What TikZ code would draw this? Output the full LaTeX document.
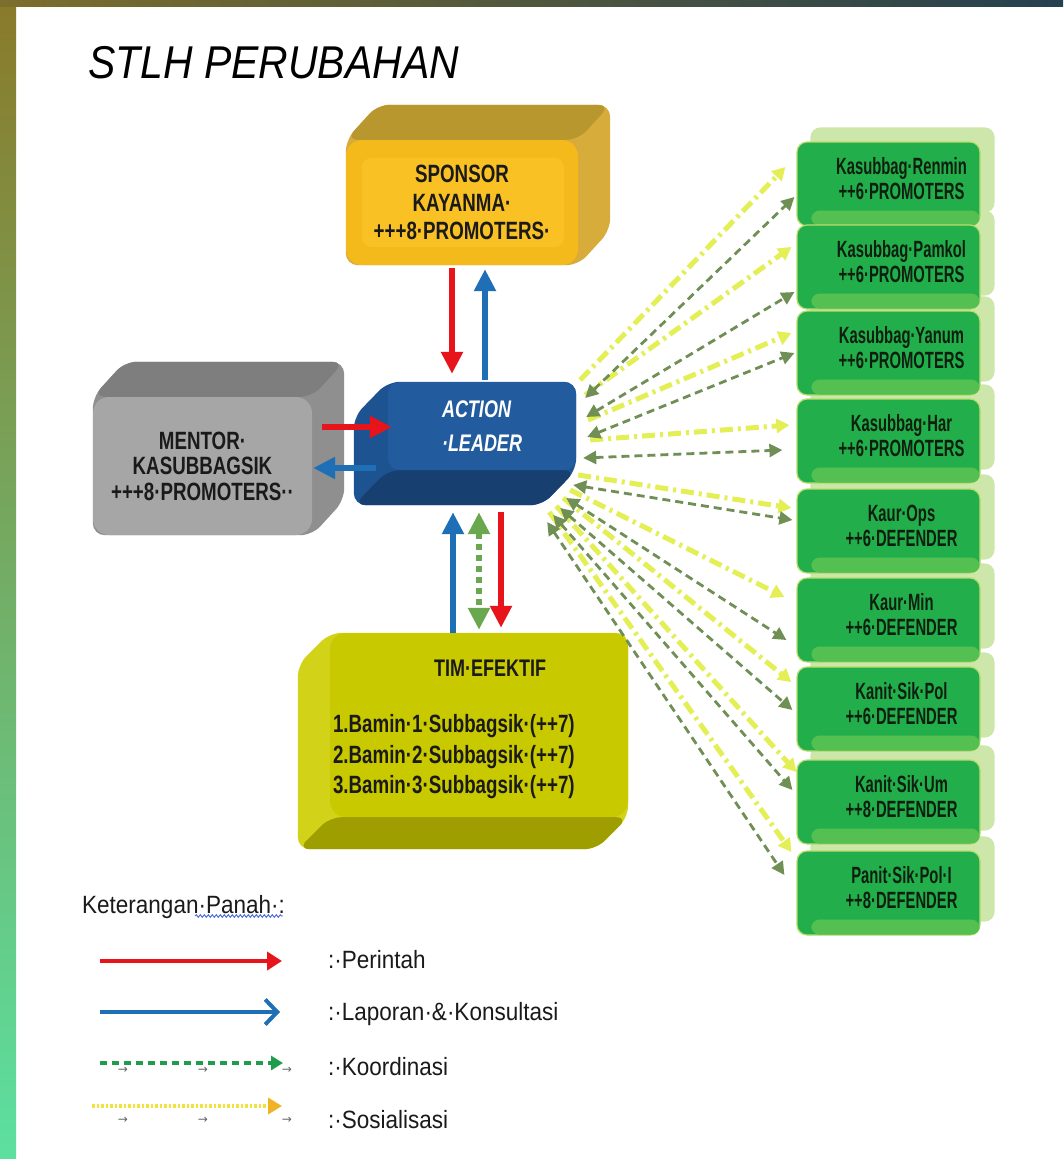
\documentclass[tikz,border=0pt]{standalone}
\usepackage{fontspec}
\setmainfont{Liberation Sans}
\newfontfamily\nA[FakeStretch=0.75]{Liberation Sans}
\newfontfamily\nB[FakeStretch=0.63]{Liberation Sans}
\newfontfamily\nC[FakeStretch=0.9]{Liberation Sans}
\newfontfamily\nT[FakeStretch=0.89]{Liberation Sans}
\newfontfamily\dv{DejaVu Sans}
\usetikzlibrary{arrows.meta,decorations.pathmorphing}
\pgfdeclarelayer{bg}
\pgfdeclarelayer{faces}
\pgfsetlayers{bg,faces,main}
\definecolor{stripA}{HTML}{8A7A2A}
\definecolor{stripB}{HTML}{94A436}
\definecolor{stripC}{HTML}{5CE0A0}
\definecolor{topA}{HTML}{7C6E2C}
\definecolor{topB}{HTML}{25404F}
\definecolor{spFront}{HTML}{F4B91B}
\definecolor{spInner}{HTML}{F9C124}
\definecolor{spTop}{HTML}{B8972F}
\definecolor{spSide}{HTML}{D8AC3A}
\definecolor{meFront}{HTML}{A6A6A6}
\definecolor{meTop}{HTML}{7E7E7E}
\definecolor{meSide}{HTML}{8F8F8F}
\definecolor{ldFront}{HTML}{225C9F}
\definecolor{ldSide}{HTML}{1E5391}
\definecolor{ldBot}{HTML}{173F70}
\definecolor{tmFront}{HTML}{C9C900}
\definecolor{tmSide}{HTML}{D2D218}
\definecolor{tmBot}{HTML}{9E9E00}
\definecolor{gFront}{HTML}{22AF4B}
\definecolor{gMid}{HTML}{55C052}
\definecolor{gBack}{HTML}{CDE6A9}
\definecolor{gEdge}{HTML}{B9DC6C}
\definecolor{arRed}{HTML}{E8141B}
\definecolor{arBlue}{HTML}{1F6FB6}
\definecolor{arGreen}{HTML}{6AA84F}
\definecolor{fanGreen}{HTML}{6F8F55}
\definecolor{fanYellow}{HTML}{E4EF55}
\definecolor{lgGreen}{HTML}{1E9E4C}
\definecolor{lgYellow}{HTML}{F2E23A}
\definecolor{lgOrange}{HTML}{F0B323}
\definecolor{txtDark}{HTML}{1A1A1A}
\definecolor{gText}{HTML}{0F1F0F}
\begin{document}
\begin{tikzpicture}[x=1pt,y=-1pt,
  front/.style={inner sep=0pt, align=center, text=txtDark},
  gbox/.style={fill=gFront, draw=gEdge, line width=1.2pt, rounded corners=10pt, minimum width=183pt, minimum height=84pt, inner sep=0pt},
  gtext/.style={align=center, text=gText, font=\nB\bfseries\fontsize{23.5}{25}\selectfont, inner sep=0pt},
  bigarrow/.style={line width=6.5pt, -{Triangle[length=22pt,width=21pt]}},
  fanY/.style={draw=fanYellow, line width=5pt, dash pattern=on 13pt off 5pt on 3pt off 5pt, -{Triangle[length=13pt,width=14pt]}},
  fanG/.style={draw=fanGreen, line width=2.8pt, dash pattern=on 8pt off 5pt, {Triangle[length=13pt,width=13pt]}-{Triangle[length=13pt,width=13pt]}},
  lgtext/.style={font=\nC\fontsize{25}{26}\selectfont, text=txtDark, inner sep=0pt},
  tabmark/.style={font=\dv\fontsize{12}{12}\selectfont, text=black!60, inner sep=0pt}
]
\useasboundingbox (0,0) rectangle (1063,1159);
\begin{pgfonlayer}{bg}
\fill[white] (0,0) rectangle (1063,1159);
\shade[top color=stripA, middle color=stripB, bottom color=stripC] (0,0) rectangle (16,1159);
\shade[left color=topA, right color=topB] (0,0) rectangle (1063,6);
\end{pgfonlayer}

% title
\node[anchor=base west, inner sep=0pt, font=\nT\itshape\fontsize{46}{46}\selectfont] (title) at (88,78) {STLH PERUBAHAN};

% sponsor
\node[front, fill=spFront, minimum width=232pt, minimum height=125pt, rounded corners=16pt] (sp) at (462,202.5) {};
\fill[spInner, rounded corners=10pt] ([shift={(16,-18)}]sp.south west) rectangle ([shift={(-14,18)}]sp.north east);
\node[front, font=\nA\bfseries\fontsize{25}{28.5}\selectfont] (sptext) at (sp.center) {SPONSOR\\KAYANMA·\\+++8·PROMOTERS·};
\begin{pgfonlayer}{faces}
\fill[spSide, rounded corners=12pt] (sp.south west) -- (sp.north west) -- ([shift={(32,-35)}]sp.north west) -- ([shift={(32,-35)}]sp.north east) -- ([shift={(32,-35)}]sp.south east) -- (sp.south east) -- cycle;
\fill[spTop, rounded corners=12pt] (sp.north west) -- ([shift={(32,-35)}]sp.north west) -- ([shift={(32,-35)}]sp.north east) -- (sp.north east) -- cycle;
\end{pgfonlayer}

% mentor
\node[front, fill=meFront, minimum width=219pt, minimum height=138pt, rounded corners=16pt,
  font=\nA\bfseries\fontsize{25}{25.5}\selectfont] (me) at (202.5,466) {MENTOR·\\KASUBBAGSIK\\+++8·PROMOTERS··};
\begin{pgfonlayer}{faces}
\fill[meSide, rounded corners=12pt] (me.south west) -- (me.north west) -- ([shift={(32,-35)}]me.north west) -- ([shift={(32,-35)}]me.north east) -- ([shift={(32,-35)}]me.south east) -- (me.south east) -- cycle;
\fill[meTop, rounded corners=12pt] (me.north west) -- ([shift={(32,-35)}]me.north west) -- ([shift={(32,-35)}]me.north east) -- (me.north east) -- cycle;
\end{pgfonlayer}

% action leader
\node[front, fill=ldFront, minimum width=188pt, minimum height=88pt, rounded corners=12pt, text=white, align=left,
  font=\nA\bfseries\itshape\fontsize{24}{34}\selectfont] (ld) at (482,426) {ACTION\\·LEADER};
\begin{pgfonlayer}{faces}
\fill[ldSide, rounded corners=12pt] (ld.north east) -- (ld.south east) -- ([shift={(-34,35)}]ld.south east) -- ([shift={(-34,35)}]ld.south west) -- ([shift={(-34,35)}]ld.north west) -- (ld.north west) -- cycle;
\fill[ldBot, rounded corners=12pt] (ld.south west) -- ([shift={(-34,35)}]ld.south west) -- ([shift={(-34,35)}]ld.south east) -- (ld.south east) -- cycle;
\end{pgfonlayer}

% tim efektif
\node[front, fill=tmFront, minimum width=298pt, minimum height=184pt, rounded corners=16pt] (tm) at (479,725) {};
\begin{pgfonlayer}{faces}
\fill[tmSide, rounded corners=12pt] (tm.north east) -- (tm.south east) -- ([shift={(-32,32)}]tm.south east) -- ([shift={(-32,32)}]tm.south west) -- ([shift={(-32,32)}]tm.north west) -- (tm.north west) -- cycle;
\fill[tmBot, rounded corners=12pt] (tm.south west) -- ([shift={(-32,32)}]tm.south west) -- ([shift={(-32,32)}]tm.south east) -- (tm.south east) -- cycle;
\end{pgfonlayer}
\node[front, font=\nA\bfseries\fontsize{24}{26}\selectfont] (tmtitle) at ([shift={(11,35)}]tm.north) {TIM·EFEKTIF};
\node[front, anchor=west, align=left, font=\nA\bfseries\fontsize{25}{30.5}\selectfont] (tmlist) at ([shift={(3,32)}]tm.west)
  {1.Bamin·1·Subbagsik·(++7)\\2.Bamin·2·Subbagsik·(++7)\\3.Bamin·3·Subbagsik·(++7)};

% green boxes
\foreach \n/\yy/\la/\lb in {
  g1/184/Kasubbag·Renmin/++6·PROMOTERS,
  g2/267/Kasubbag·Pamkol/++6·PROMOTERS,
  g3/353/Kasubbag·Yanum/++6·PROMOTERS,
  g4/441/Kasubbag·Har/++6·PROMOTERS,
  g5/531/Kaur·Ops/++6·DEFENDER,
  g6/620/Kaur·Min/++6·DEFENDER,
  g7/709/Kanit·Sik·Pol/++6·DEFENDER,
  g8/802/Kanit·Sik·Um/++8·DEFENDER,
  g9/893/Panit·Sik·Pol·I/++8·DEFENDER}{
  \node[gbox] (\n) at (888.5,\yy) {};
  \begin{pgfonlayer}{faces}
  \fill[gBack, rounded corners=10pt] ([shift={(14,-14)}]\n.south west) rectangle ([shift={(14,-14)}]\n.north east);
  \end{pgfonlayer}
  \fill[gMid, rounded corners=8pt] ([shift={(15,-16)}]\n.south west) rectangle ([shift={(-1,-1)}]\n.south east);
  \node[gtext] (\n t) at ([shift={(13,-5)}]\n.center) {\la\\\lb};
}

% fan connectors
\foreach \g/\ax/\ay/\bx/\by in {
  g1/4/-46/-11/-17, g2/9/-31/-5/-20, g3/12/-6/-5/-20, g4/14/14/-7/-16,
  g5/2/49/-5/-23, g6/-6/64/-12/-23, g7/-13/72/-5/-27, g8/-20/80/0/-30, g9/-27/86/-5/-41}{
  \draw[fanY] ([shift={(\ax,\ay)}]ld.east) -- ([shift={(\bx,\by)}]\g.west);
}
\foreach \g/\ax/\ay/\bx/\by in {
  g1/9/-28/-2/13, g2/10/-9/-2/25, g3/11/11/-2/0, g4/7/32/-14/9,
  g5/-3/59/-4/-11, g6/-10/72/-10/20, g7/-16/82/-4/1, g8/-23/89/-4/-12, g9/-29/96/-12/-18}{
  \draw[fanG] ([shift={(\ax,\ay)}]ld.east) -- ([shift={(\bx,\by)}]\g.west);
}

% main arrows
\draw[bigarrow, arRed] ([shift={(-10,3)}]sp.south) -- ([shift={(-30,-8)}]ld.north);
\draw[bigarrow, arBlue] ([shift={(3,-2)}]ld.north) -- ([shift={(23,4)}]sp.south);
\draw[bigarrow, arRed] ([shift={(10,-39)}]me.east) -- ([shift={(4,1)}]ld.west);
\draw[bigarrow, arBlue] ([shift={(-12,42)}]ld.west) -- ([shift={(1,2)}]me.east);
\draw[bigarrow, arBlue] ([shift={(-26,0)}]tm.north) -- ([shift={(-29,42)}]ld.south);
\draw[bigarrow, arRed] ([shift={(19,42)}]ld.south) -- ([shift={(22,-5)}]tm.north);
\draw[arGreen, line width=6pt, dash pattern=on 6pt off 5pt, {Triangle[length=22pt,width=21pt]}-{Triangle[length=22pt,width=21pt]}] ([shift={(-3,42)}]ld.south) -- ([shift={(0,-3)}]tm.north);

% legend
\node[lgtext, anchor=base west] (keter) at (82,913) {Keterangan·Panah·:};
\draw[color={rgb,255:red,70;green,100;blue,210}, line width=0.9pt, decorate, decoration={snake, amplitude=1.3pt, segment length=4pt}]
  ([shift={(-90,3)}]keter.base east) -- ([shift={(-2,3)}]keter.base east);

\node[lgtext, anchor=base west] (lp) at (328,968) {:·Perintah};
\node[lgtext, anchor=base west] (ll) at (328,1020) {:·Laporan·\&·Konsultasi};
\node[lgtext, anchor=base west] (lk) at (328,1075) {:·Koordinasi};
\node[lgtext, anchor=base west] (ls) at (328,1128) {:·Sosialisasi};

\coordinate (rA) at (100,961); \coordinate (rB) at (282,961);
\coordinate (bA) at (100,1012); \coordinate (bB) at (280,1012);
\coordinate (kA) at (100,1063); \coordinate (kB) at (283,1063);
\coordinate (yA) at (92,1106); \coordinate (yB) at (282,1106);
\draw[arRed, line width=4.3pt, -{Triangle[length=15pt,width=18pt]}] (rA) -- (rB);
\draw[arBlue, line width=4pt, -{Straight Barb[length=12pt,width=25pt,line width=4pt]}] (bA) -- (bB);
\draw[lgGreen, line width=4pt, dash pattern=on 7pt off 5pt, -{Triangle[length=12pt,width=14pt]}] (kA) -- (kB);
\draw[lgYellow, line width=4pt, dash pattern=on 2.5pt off 2pt, -{Triangle[length=14pt,width=16pt,color=lgOrange]}] (yA) -- (yB);
\node[tabmark] (k1) at (123,1070) {→};
\node[tabmark] (k2) at (203,1070) {→};
\node[tabmark] (k3) at (287,1070) {→};
\node[tabmark] (s1) at (123,1120) {→};
\node[tabmark] (s2) at (203,1120) {→};
\node[tabmark] (s3) at (287,1120) {→};
\end{tikzpicture}
\end{document}
